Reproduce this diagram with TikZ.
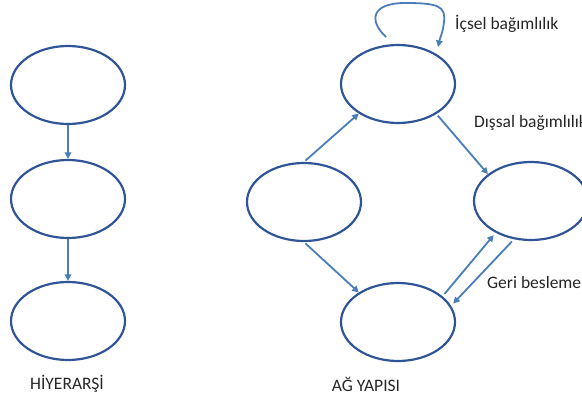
\documentclass[tikz,border=0pt]{standalone}
\usepackage{fontspec}
\setmainfont{Carlito}
\usetikzlibrary{shapes.geometric,arrows.meta}
\definecolor{ellc}{HTML}{2F5597}
\definecolor{arrc}{HTML}{4A7EBB}
\tikzset{
  ell/.style={ellipse, draw=ellc, line width=2.2pt, minimum width=114pt, minimum height=78pt, inner sep=0pt},
  conn/.style={draw=arrc, line width=1.8pt, -{Triangle[length=6.5pt,width=6.5pt]}},
  lbl/.style={font=\fontsize{17.5}{20}\selectfont, text=black!85, inner sep=0pt}
}
\begin{document}
\begin{tikzpicture}[x=1pt,y=-1pt]
\useasboundingbox (0,0) rectangle (582,409);
\clip (0,0) rectangle (582,409);
% hierarchy
\node[ell] (h1) at (68,85) {};
\node[ell] (h2) at (68,199) {};
\node[ell] (h3) at (68,321) {};
\draw[conn] (h1) -- (h2);
\draw[conn] (h2) -- (h3);
\node[lbl] (lh) at (67,384) {HİYERARŞİ};
% network
\node[ell] (a) at (304,202) {};
\node[ell] (b) at (398,84) {};
\node[ell] (c) at (531,201) {};
\node[ell] (d) at (398,322) {};
\draw[conn, shorten <=2pt] (a.90) -- (b.217);
\draw[conn, shorten <=2pt] (b.322) -- (c.148);
\draw[conn, shorten <=2pt] (a.270) -- (d.143);
\draw[conn, shorten <=3pt, shorten >=3pt] (d.30) -- (c.222);
\draw[conn, shorten <=3pt, shorten >=3pt] (c.246) -- (d.17);
\coordinate (ls) at (386,37);
\coordinate (le) at (438,47);
\draw[conn] (ls) .. controls (368,20) and (372,3) .. (405,3) .. controls (438,3) and (446,6) .. (444,22) .. controls (443,32) and (440,38) .. (le);
\node[lbl, anchor=west] (li) at (455,24) {İçsel bağımlılık};
\node[lbl, anchor=west] (ld) at (474,123) {Dışsal bağımlılık};
\node[lbl, anchor=west] (lg) at (487,282) {Geri besleme};
\node[lbl] (la) at (366,384) {AĞ YAPISI};
\end{tikzpicture}
\end{document}
